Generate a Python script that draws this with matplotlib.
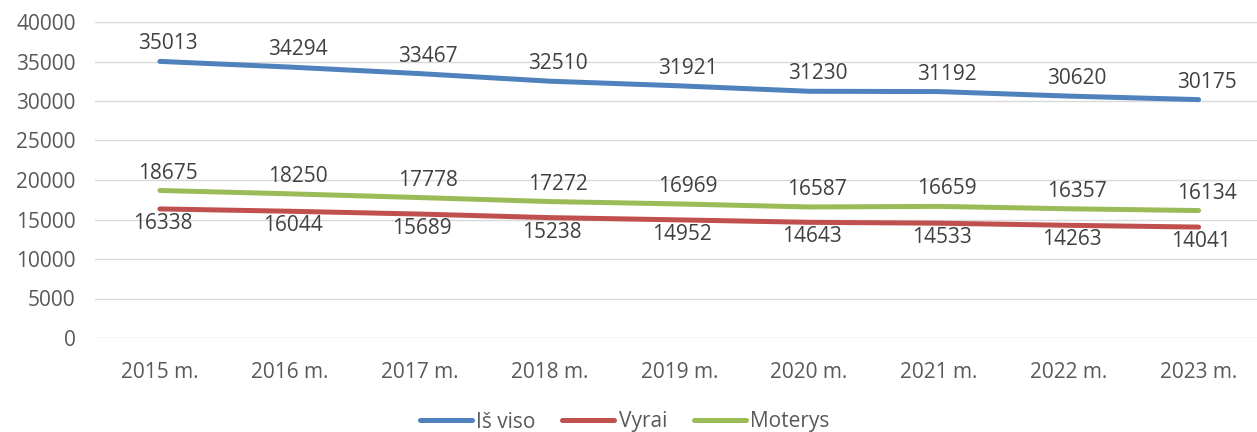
import matplotlib.pyplot as plt

# Gyventojų skaičius pagal lytį
metai = ["2015 m.", "2016 m.", "2017 m.", "2018 m.", "2019 m.",
         "2020 m.", "2021 m.", "2022 m.", "2023 m."]
is_viso = [35013, 34294, 33467, 32510, 31921, 31230, 31192, 30620, 30175]
vyrai = [16338, 16044, 15689, 15238, 14952, 14643, 14533, 14263, 14041]
moterys = [18675, 18250, 17778, 17272, 16969, 16587, 16659, 16357, 16134]

plt.rcParams["font.family"] = ["Open Sans", "DejaVu Sans"]

fig = plt.figure(figsize=(12.57, 4.32), dpi=100)
ax = fig.add_axes([95 / 1257, 94 / 432, 1162 / 1257, 316 / 432])

x = list(range(len(metai)))
serijos = [
    ("Iš viso", is_viso, "#4F81BD", "virs"),
    ("Vyrai", vyrai, "#C0504D", "po"),
    ("Moterys", moterys, "#9BBB59", "virs"),
]

for pavadinimas, reiksmes, spalva, vieta in serijos:
    ax.plot(x, reiksmes, color=spalva, linewidth=3.6,
            solid_capstyle="round", label=pavadinimas, zorder=3)
    for xi, yi in zip(x, reiksmes):
        if vieta == "virs":
            ax.annotate(str(yi), (xi, yi), xytext=(6, 5), textcoords="offset points",
                        ha="center", va="bottom", fontsize=15, color="#404040")
        else:
            ax.annotate(str(yi), (xi, yi), xytext=(2, -3), textcoords="offset points",
                        ha="center", va="top", fontsize=15, color="#404040")

ax.set_xlim(-0.5, 8.45)
ax.set_ylim(0, 40000)
ax.set_yticks(range(0, 40001, 5000))
ax.set_xticks(x)
ax.set_xticklabels(metai)
ax.tick_params(axis="both", length=0, labelsize=15, labelcolor="#595959")
ax.tick_params(axis="x", pad=17)
ax.tick_params(axis="y", pad=14)
ax.grid(axis="y", color="#D9D9D9", linewidth=1.0)
ax.set_axisbelow(True)
for s in ax.spines.values():
    s.set_visible(False)

leg = fig.legend(loc="center", bbox_to_anchor=(0.497, 10 / 432), ncol=3, frameon=False,
                 fontsize=15, handlelength=2.5, handletextpad=0.2, columnspacing=1.3,
                 labelcolor="#595959")

fig.savefig("out.png", dpi=100)
